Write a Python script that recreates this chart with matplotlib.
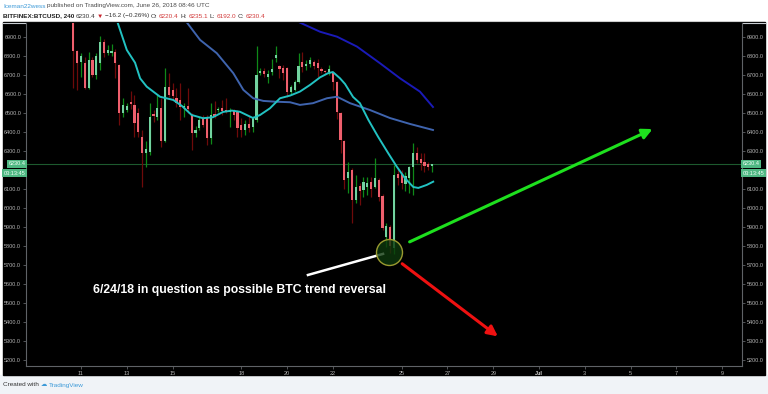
import matplotlib
matplotlib.use('Agg')
import matplotlib.pyplot as plt
import pandas as pd
import numpy as np
from matplotlib.patches import Rectangle
from matplotlib.lines import Line2D

plt.rcParams['font.family'] = ['Liberation Sans', 'DejaVu Sans']

# BITFINEX:BTCUSD 4h candles, first bar 2018-06-10 16:00 UTC
start = '2018-06-10 16:00'
opens = [7000, 6828, 6770, 6766, 6635, 6780, 6700, 6763, 6877, 6815,
         6818, 6824, 6754, 6500, 6517, 6560, 6544, 6500, 6377, 6290,
         6298, 6495, 6482, 6526, 6356, 6640, 6625, 6580, 6570, 6535,
         6540, 6491, 6395, 6421, 6474, 6482, 6368, 6495, 6515, 6530,
         6518, 6505, 6513, 6510, 6438, 6410, 6445, 6426, 6465, 6710,
         6725, 6690, 6715, 6790, 6750, 6740, 6737, 6610, 6625, 6665,
         6770, 6748, 6760, 6770, 6765, 6735, 6722, 6715, 6715, 6666,
         6500, 6355, 6160, 6200, 6045, 6115, 6095, 6110, 6140, 6114,
         6150, 6065, 5850, 5900, 5790, 6180, 6180, 6130, 6160, 6215,
         6290, 6260, 6245, 6235, 6220.4]
highs = [7010, 6835, 6816, 6795, 6824, 6795, 6816, 6907, 6890, 6860,
         6865, 6837, 6760, 6582, 6555, 6617, 6596, 6526, 6412, 6356,
         6552, 6517, 6601, 6579, 6740, 6710, 6660, 6632, 6661, 6556,
         6632, 6500, 6433, 6482, 6491, 6490, 6552, 6565, 6535, 6570,
         6580, 6526, 6525, 6517, 6474, 6465, 6485, 6485, 6856, 6737,
         6737, 6728, 6784, 6854, 6754, 6754, 6745, 6650, 6675, 6815,
         6824, 6780, 6795, 6782, 6784, 6745, 6730, 6754, 6719, 6670,
         6508, 6360, 6245, 6210, 6175, 6132, 6165, 6165, 6165, 6263,
         6160, 6075, 5921, 5910, 6230, 6211, 6200, 6190, 6225, 6345,
         6320, 6290, 6289, 6245, 6235.1]
lows = [6632, 6623, 6693, 6630, 6630, 6693, 6679, 6728, 6795, 6805,
        6800, 6684, 6438, 6482, 6505, 6520, 6377, 6377, 6114, 6219,
        6280, 6456, 6465, 6324, 6350, 6585, 6570, 6535, 6465, 6482,
        6500, 6307, 6377, 6410, 6430, 6333, 6337, 6475, 6508, 6491,
        6500, 6430, 6465, 6377, 6377, 6386, 6400, 6400, 6455, 6702,
        6690, 6658, 6702, 6772, 6684, 6675, 6587, 6600, 6615, 6660,
        6719, 6730, 6745, 6735, 6693, 6710, 6705, 6702, 6620, 6468,
        6289, 6100, 6079, 5920, 6026, 6017, 6060, 6070, 6060, 6105,
        6040, 5885, 5798, 5765, 5760, 6123, 6100, 6090, 6080, 6070,
        6240, 6200, 6193, 6200, 6192.0]
closes = [6830, 6763, 6800, 6635, 6780, 6700, 6800, 6877, 6816, 6832,
          6826, 6763, 6500, 6543, 6537, 6548, 6447, 6403, 6289, 6310,
          6482, 6485, 6526, 6356, 6640, 6596, 6590, 6555, 6535, 6540,
          6525, 6395, 6410, 6465, 6438, 6368, 6491, 6480, 6525, 6510,
          6505, 6515, 6490, 6421, 6412, 6445, 6425, 6474, 6702, 6722,
          6705, 6705, 6735, 6808, 6735, 6710, 6614, 6640, 6665, 6750,
          6745, 6760, 6780, 6750, 6740, 6720, 6715, 6735, 6665, 6508,
          6360, 6150, 6190, 6045, 6110, 6090, 6140, 6135, 6100, 6158,
          6060, 5895, 5905, 5800, 6175, 6160, 6135, 6170, 6215, 6290,
          6255, 6240, 6225, 6215, 6230.4]

# moving averages (day of June, price)
ma_fast_x = [12.56, 13.0, 13.36, 13.58, 13.87, 14.45, 15.03, 15.41, 15.83, 16.33,
             16.76, 17.2, 17.59, 17.94, 18.51, 18.82, 19.25, 19.69, 20.13, 20.56,
             21.0, 21.44, 21.79, 22.0, 22.31, 22.53, 22.88, 23.18, 23.55, 23.97,
             24.42, 24.79, 25.15, 25.51, 25.73, 26.1, 26.38]
ma_fast_y = [6991, 6833, 6766, 6684, 6640, 6587, 6570, 6538, 6491, 6474,
             6479, 6507, 6514, 6508, 6475, 6491, 6526, 6579, 6593, 6614,
             6649, 6689, 6711, 6717, 6684, 6654, 6586, 6553, 6465, 6377,
             6289, 6219, 6158, 6112, 6107, 6123, 6140]
ma_mid_x = [15.54, 16.2, 16.93, 17.65, 18.09, 18.52, 18.96, 19.47, 20.13, 20.56,
            21.13, 21.74, 22.18, 22.75, 23.62, 24.49, 25.36, 26.37]
ma_mid_y = [6991, 6886, 6816, 6711, 6623, 6579, 6565, 6561, 6558, 6544,
            6553, 6579, 6587, 6553, 6517, 6475, 6444, 6412]
ma_slow_x = [20.49, 21.44, 22.18, 23.05, 24.06, 24.93, 25.8, 26.37]
ma_slow_y = [6981, 6929, 6903, 6851, 6763, 6684, 6614, 6533]

last_price = 6230.4
countdown = '03:13:45'

ytick_vals = list(range(5200, 7000, 100))
xtick_days = [11, 13, 15, 18, 20, 22, 25, 27, 29, 31, 33, 35, 37, 39]
xtick_labels = ['11', '13', '15', '18', '20', '22', '25', '27', '29', 'Jul', '3', '5', '7', '9']

times = pd.date_range(start, periods=len(opens), freq='4h')
x = np.asarray((times - pd.Timestamp('2018-05-31')) / pd.Timedelta(days=1))
o = np.array(opens); h = np.array(highs); l = np.array(lows); c = np.array(closes)
up = c >= o

W, H = 768, 394
fig = plt.figure(figsize=(W / 100, H / 100), dpi=100, facecolor='white')
fig.patches.append(Rectangle((0, 0), 1, 19 / H, transform=fig.transFigure,
                             color='#f0f3f7', zorder=-2))
fig.patches.append(Rectangle((3 / W, 1 - 375 / H), 762 / W, 353 / H,
                             transform=fig.transFigure, color='black', zorder=-2))
fig.lines.append(Line2D([3 / W, 765 / W], [1 - 22.5 / H] * 2, transform=fig.transFigure,
                        color='#c8ccd2', lw=0.8, zorder=-1))

ax = fig.add_axes([26 / W, 1 - 366 / H, 716 / W, 343 / H])
ax.set_facecolor('black')
ax.set_xlim(8.598, 39.865)
ax.set_ylim(5170, 6975)

# candles
wick_col = np.where(up, '#0f8a18', '#6e0a0a')
body_col = np.where(up, '#72d3a0', '#ef5f6d')
ax.vlines(x, l, h, colors=wick_col, lw=0.9, zorder=2)
ax.bar(x, np.maximum(np.abs(c - o), 5), bottom=np.minimum(o, c), width=0.095,
       color=body_col, zorder=3)

# moving averages
ax.plot(ma_slow_x, ma_slow_y, color='#1a1ab8', lw=1.4, zorder=4)
ax.plot(ma_mid_x, ma_mid_y, color='#3f64ae', lw=1.4, zorder=4)
ax.plot(ma_fast_x, ma_fast_y, color='#22c2c2', lw=1.4, zorder=4)

ax.axhline(last_price, color='#1d5a2e', lw=0.8, zorder=1)

# annotations
ax.plot([20.91, 24.19], [5649, 5760], color='white', lw=1.8, zorder=5)
ax.scatter([24.45], [5770], s=350, facecolor=(0.05, 0.22, 0.05, 0.8),
           edgecolor='#9a9a30', lw=1, zorder=5)
ax.annotate('', xy=(36.07, 6423), xytext=(25.24, 5817),
            arrowprops=dict(arrowstyle='-|>', color='#1ee01e', lw=2.2, mutation_scale=15))
ax.annotate('', xy=(29.3, 5317), xytext=(24.93, 5717),
            arrowprops=dict(arrowstyle='-|>', color='#ee1111', lw=2.2, mutation_scale=15))
ax.text(11.52, 5570, '6/24/18 in question as possible BTC trend reversal', color='white',
        fontweight='bold', fontsize=8.8, va='center', ha='left', zorder=6)

# axes styling
for side in ['left', 'right', 'bottom']:
    ax.spines[side].set_color('#5f6266')
    ax.spines[side].set_linewidth(0.8)
ax.spines['top'].set_visible(False)
ax.set_yticks(ytick_vals)
# the 6200 label sits under the countdown tag
ax.set_yticklabels(['' if v == 6200 else '%.1f' % v for v in ytick_vals])
ax.set_xticks(xtick_days)
ax.set_xticklabels(xtick_labels)
ax.tick_params(axis='both', colors='#5f6266', labelcolor='#b4b4b4', labelsize=4,
               length=2, width=0.6, pad=1.5)
ax.tick_params(axis='y', right=True, labelright=True)
for t in ax.get_xticklabels():
    if t.get_text() == 'Jul':
        t.set_fontweight('bold')
        t.set_color('#d8d8d8')

# last price / countdown tags on both sides
blend = ax.get_yaxis_transform()
for xa, ha in [(-0.001, 'right'), (1.001, 'left')]:
    ax.text(xa, last_price + 4, '%.1f' % last_price, transform=blend, ha=ha,
            va='center', fontsize=4, color='#f2fff7', zorder=10, clip_on=False,
            bbox=dict(boxstyle='square,pad=0.25', fc='#4fb883', ec='none'))
    ax.text(xa, last_price - 46, countdown, transform=blend, ha=ha, va='center',
            fontsize=4, color='#f2fff7', zorder=10, clip_on=False,
            bbox=dict(boxstyle='square,pad=0.25', fc='#4fb883', ec='none'))

# header and footer text, laid out piece by piece
renderer = fig.canvas.get_renderer()


def text_row(parts, x0, ypx, size):
    xp = x0
    for s, col, wt in parts:
        t = fig.text(xp / W, 1 - ypx / H, s, color=col, fontweight=wt, fontsize=size,
                     va='center', ha='left')
        xp += t.get_window_extent(renderer).width + 1.6


text_row([('Iceman22wess', '#3d9ad8', 'normal'),
          ('published on TradingView.com, June 26, 2018 08:46 UTC', '#4a4a4a', 'normal')],
         3, 6, 4.6)
text_row([('BITFINEX:BTCUSD, 240', '#222222', 'bold'),
          ('6230.4', '#333333', 'normal'),
          ('\u25bc', '#c8232c', 'normal'),
          ('\u221216.2 (\u22120.26%)', '#333333', 'normal'),
          ('O:', '#333333', 'normal'), ('6220.4', '#d23a3a', 'normal'),
          ('H:', '#333333', 'normal'), ('6235.1', '#d23a3a', 'normal'),
          ('L:', '#333333', 'normal'), ('6192.0', '#d23a3a', 'normal'),
          ('C:', '#333333', 'normal'), ('6230.4', '#d23a3a', 'normal')],
         3, 16, 4.6)
text_row([('Created with', '#333333', 'normal'),
          ('\u2601', '#3d9ad8', 'normal'),
          ('TradingView', '#3d9ad8', 'normal')],
         3, 385, 4.6)

fig.savefig('out.png', dpi=100, facecolor=fig.get_facecolor())
